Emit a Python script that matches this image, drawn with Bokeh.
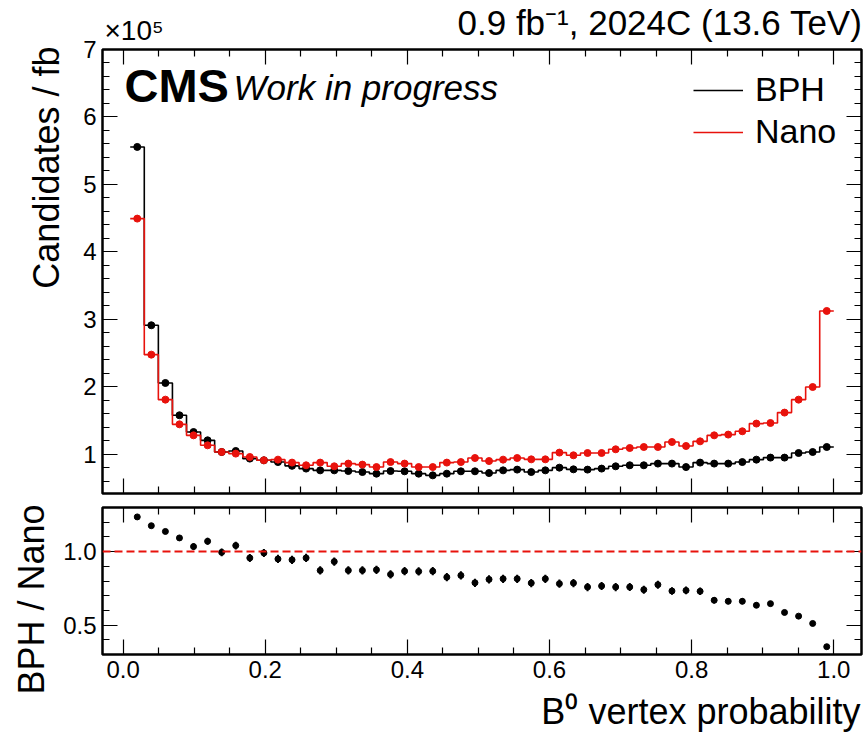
import numpy as np
from math import pi
from bokeh.plotting import figure
from bokeh.models import (ColumnDataSource, Range1d, LinearAxis, FixedTicker, Label, Title,
                          Legend, LegendItem, Span, PrintfTickFormatter)
from bokeh.layouts import column
from bokeh.embed import file_html
from bokeh.resources import INLINE

# ---------------- data ----------------
n_bins = 50
bin_lo, bin_hi = 0.01, 1.0

# candidates / fb, in units of 1e5
bph = [5.556, 2.913, 2.058, 1.579, 1.331, 1.208, 1.035, 1.050, 0.937, 0.912,
       0.886, 0.830, 0.789, 0.763, 0.763, 0.753, 0.738, 0.714, 0.753, 0.749,
       0.714, 0.689, 0.714, 0.749, 0.749, 0.723, 0.763, 0.774, 0.738, 0.763,
       0.803, 0.778, 0.774, 0.789, 0.823, 0.838, 0.838, 0.863, 0.863, 0.812,
       0.878, 0.863, 0.863, 0.886, 0.922, 0.952, 0.952, 1.020, 1.035, 1.109]
nano = [4.494, 2.478, 1.811, 1.445, 1.282, 1.134, 1.035, 1.011, 0.961, 0.912,
        0.922, 0.878, 0.838, 0.878, 0.823, 0.863, 0.848, 0.812, 0.886, 0.863,
        0.812, 0.812, 0.878, 0.886, 0.946, 0.901, 0.922, 0.946, 0.926, 0.926,
        1.026, 0.986, 1.020, 1.020, 1.075, 1.094, 1.109, 1.109, 1.183, 1.124,
        1.193, 1.282, 1.293, 1.342, 1.456, 1.465, 1.619, 1.811, 1.998, 3.125]
ratio = [1.236, 1.176, 1.137, 1.093, 1.034, 1.070, 0.995, 1.041, 0.957, 0.991,
         0.950, 0.944, 0.957, 0.872, 0.932, 0.872, 0.872, 0.876, 0.845, 0.867,
         0.865, 0.867, 0.826, 0.838, 0.788, 0.811, 0.815, 0.815, 0.786, 0.815,
         0.782, 0.786, 0.759, 0.766, 0.759, 0.759, 0.741, 0.775, 0.732, 0.736,
         0.730, 0.669, 0.662, 0.662, 0.635, 0.646, 0.586, 0.561, 0.511, 0.353]
ratio_err = [0.006, 0.010, 0.012, 0.018, 0.022, 0.024, 0.026, 0.026, 0.027, 0.027,
             0.028, 0.028, 0.028, 0.028, 0.028, 0.028, 0.028, 0.028, 0.028, 0.028,
             0.028, 0.028, 0.028, 0.028, 0.028, 0.028, 0.028, 0.028, 0.028, 0.028,
             0.028, 0.028, 0.028, 0.028, 0.028, 0.027, 0.027, 0.027, 0.026, 0.026,
             0.025, 0.022, 0.020, 0.020, 0.018, 0.016, 0.014, 0.012, 0.010, 0.006]

x_major = [0.0, 0.2, 0.4, 0.6, 0.8, 1.0]
x_minor = [0.05, 0.1, 0.15, 0.25, 0.3, 0.35, 0.45, 0.5, 0.55, 0.65, 0.7, 0.75,
           0.85, 0.9, 0.95]
top_y_major = [1, 2, 3, 4, 5, 6, 7]
top_y_minor = [0.6, 0.8, 1.2, 1.4, 1.6, 1.8, 2.2, 2.4, 2.6, 2.8, 3.2, 3.4, 3.6, 3.8,
               4.2, 4.4, 4.6, 4.8, 5.2, 5.4, 5.6, 5.8, 6.2, 6.4, 6.6, 6.8]
rat_y_major = [0.5, 1.0]
rat_y_minor = [0.4, 0.6, 0.7, 0.8, 0.9, 1.1, 1.2]

FONT = "Liberation Sans"
RED = "#e8120c"
W = 864
HEAD_H = 48        # header strip: page y 0..48
P1_TOP = 34        # top panel canvas starts at page y 34 (overlaps header, transparent)
P2_TOP = 498
P2_BOTTOM = 696
FOOT_TOP = 686     # footer strip overlaps ratio canvas bottom (transparent)
FOOT_H = 51

edges = np.linspace(bin_lo, bin_hi, n_bins + 1)
centers = 0.5 * (edges[:-1] + edges[1:])

x_range = (-0.029, 1.039)


def style_axis(ax, ticks, minor, labels, fmt=None):
    ax.ticker = FixedTicker(ticks=ticks, minor_ticks=minor)
    ax.major_tick_in = 15
    ax.major_tick_out = 0
    ax.minor_tick_in = 7
    ax.minor_tick_out = 0
    ax.major_tick_line_color = "black"
    ax.minor_tick_line_color = "black"
    ax.major_tick_line_width = 1.2
    ax.minor_tick_line_width = 1.2
    ax.axis_line_color = None
    if fmt is not None:
        ax.formatter = PrintfTickFormatter(format=fmt)
    if labels:
        ax.major_label_text_font = FONT
        ax.major_label_text_font_size = "24px"
        ax.major_label_text_color = "black"
    else:
        ax.major_label_text_font_size = "0px"
        ax.major_label_text_color = None
        ax.major_label_standoff = 0


def title(text, size, standoff, align="right", offset=0, valign="bottom"):
    return Title(text=text, align=align, text_font=FONT, text_font_size=size,
                 text_font_style="normal", text_color="black", standoff=standoff,
                 offset=offset, vertical_align=valign)


def strip(height, y_top, **kw):
    # text strip whose data coordinates are page pixels (frame aligned 99..861)
    f = figure(width=W, height=height, x_range=Range1d(99, 861),
               y_range=Range1d(y_top + height, y_top),
               output_backend="svg", toolbar_location=None, min_border=0,
               x_axis_type=None, y_axis_type=None, **kw)
    f.grid.visible = False
    f.outline_line_color = None
    f.border_fill_alpha = 0
    f.background_fill_alpha = 0
    return f


# ---------------- header strip (texts above the frame) ----------------
head = strip(HEAD_H, 0)
head.add_layout(Label(x=862, y=22, text="0.9 fb\u207b\u00b9, 2024C (13.6 TeV)",
                      text_font=FONT, text_font_size="35px", text_color="black",
                      text_align="right", text_baseline="alphabetic"))
head.add_layout(Label(x=101, y=30, text="\u00d710\u2075",
                      text_font=FONT, text_font_size="28px", text_color="black",
                      text_align="left", text_baseline="alphabetic"))

# ---------------- top panel ----------------
p1 = figure(width=W, height=P2_TOP - P1_TOP, x_range=Range1d(*x_range),
            y_range=Range1d(0.42, 7.0),
            output_backend="svg", toolbar_location=None,
            min_border_left=99, min_border_right=3, min_border_top=49 - P1_TOP,
            min_border_bottom=5, margin=(P1_TOP - HEAD_H, 0, 0, 0))
p1.grid.visible = False
p1.border_fill_alpha = 0
p1.outline_line_color = "black"
p1.outline_line_width = 2.5
p1.outline_line_alpha = 1.0

style_axis(p1.xaxis[0], x_major, x_minor, False)
style_axis(p1.yaxis[0], top_y_major, top_y_minor, True)
p1.yaxis[0].major_label_standoff = 6
ax_top = LinearAxis()
style_axis(ax_top, x_major, x_minor, False)
p1.add_layout(ax_top, "above")
ax_right = LinearAxis()
style_axis(ax_right, top_y_major, top_y_minor, False)
p1.add_layout(ax_right, "right")

step_src_b = ColumnDataSource(dict(x=edges, y=list(bph) + [bph[-1]]))
step_src_n = ColumnDataSource(dict(x=edges, y=list(nano) + [nano[-1]]))
r_b = p1.step("x", "y", source=step_src_b, mode="after", line_color="black", line_width=1.6)
r_n = p1.step("x", "y", source=step_src_n, mode="after", line_color=RED, line_width=1.6)
p1.scatter(centers, bph, size=7, color="black")
p1.scatter(centers, nano, size=7, color=RED)

legend = Legend(items=[LegendItem(label="BPH", renderers=[r_b]),
                       LegendItem(label="Nano", renderers=[r_n])],
                location=(591, 342), orientation="vertical",
                label_text_font=FONT, label_text_font_size="34px", label_text_color="black",
                glyph_width=50, glyph_height=34, label_height=34,
                spacing=3, label_standoff=12, padding=0, margin=0,
                background_fill_alpha=0, border_line_color=None)
p1.add_layout(legend)

p1.add_layout(Label(x=22, y=408, x_units="screen", y_units="screen", text="CMS",
                    text_font=FONT, text_font_style="bold", text_font_size="47px",
                    text_color="black", text_baseline="alphabetic"))
p1.add_layout(Label(x=131, y=406, x_units="screen", y_units="screen", text="Work in progress",
                    text_font=FONT, text_font_style="italic", text_font_size="35px",
                    text_color="black", text_baseline="alphabetic"))

p1.add_layout(title("Candidates / fb", "36px", 27, offset=-3), "left")

# ---------------- ratio panel ----------------
p2 = figure(width=W, height=P2_BOTTOM - P2_TOP, x_range=p1.x_range, y_range=Range1d(0.3, 1.3),
            output_backend="svg", toolbar_location=None,
            min_border_left=99, min_border_right=3, min_border_top=507 - P2_TOP,
            min_border_bottom=P2_BOTTOM - 654)
p2.grid.visible = False
p2.border_fill_alpha = 0
p2.outline_line_color = "black"
p2.outline_line_width = 2.5
p2.outline_line_alpha = 1.0

style_axis(p2.xaxis[0], x_major, x_minor, True, fmt="%.1f")
p2.xaxis[0].major_label_standoff = 6
style_axis(p2.yaxis[0], rat_y_major, rat_y_minor, True, fmt="%.1f")
p2.yaxis[0].major_label_standoff = 6
ax_top2 = LinearAxis()
style_axis(ax_top2, x_major, x_minor, False)
p2.add_layout(ax_top2, "above")
ax_right2 = LinearAxis()
style_axis(ax_right2, rat_y_major, rat_y_minor, False)
p2.add_layout(ax_right2, "right")

p2.add_layout(Span(location=1.0, dimension="width", line_color=RED, line_width=2,
                   line_dash="8 4"))
rat_src = ColumnDataSource(dict(x=centers, y=ratio,
                                lo=np.array(ratio) - np.array(ratio_err),
                                hi=np.array(ratio) + np.array(ratio_err)))
p2.segment(x0="x", y0="lo", x1="x", y1="hi", source=rat_src, line_color="black", line_width=2)
p2.scatter("x", "y", source=rat_src, size=6, color="black")

p2.add_layout(title("BPH / Nano", "36px", 17, offset=-3), "left")

# ---------------- footer strip (x axis title) ----------------
foot = strip(FOOT_H, FOOT_TOP, margin=(FOOT_TOP - P2_BOTTOM, 0, 0, 0))
foot.add_layout(Label(x=860, y=711, text="B\u2070 vertex probability",
                      text_font=FONT, text_font_size="36px", text_color="black",
                      text_align="right", text_baseline="alphabetic"))

layout = column(head, p1, p2, foot, spacing=0)
open("out.html", "w").write(file_html(layout, INLINE))
